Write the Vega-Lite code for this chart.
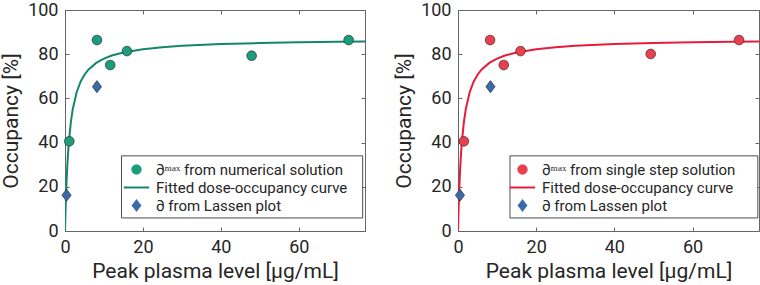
{
  "$schema": "https://vega.github.io/schema/vega-lite/v6.json",
  "padding": {"left": 0, "top": 0, "right": 0, "bottom": 0},
  "datasets": {
    "pts": [
      {"panel": "A", "series": "∂ᵐᵃˣ from numerical solution", "c": 1.1, "o": 40.6},
      {"panel": "A", "series": "∂ᵐᵃˣ from numerical solution", "c": 8.2, "o": 86.4},
      {"panel": "A", "series": "∂ᵐᵃˣ from numerical solution", "c": 11.6, "o": 75.1},
      {"panel": "A", "series": "∂ᵐᵃˣ from numerical solution", "c": 15.9, "o": 81.4},
      {"panel": "A", "series": "∂ᵐᵃˣ from numerical solution", "c": 47.9, "o": 79.3},
      {"panel": "A", "series": "∂ᵐᵃˣ from numerical solution", "c": 72.8, "o": 86.4},
      {"panel": "A", "series": "∂ from Lassen plot", "c": 0.4, "o": 16.2},
      {"panel": "A", "series": "∂ from Lassen plot", "c": 8.2, "o": 65.3},
      {"panel": "B", "series": "∂ᵐᵃˣ from single step solution", "c": 1.5, "o": 40.6},
      {"panel": "B", "series": "∂ᵐᵃˣ from single step solution", "c": 8.2, "o": 86.4},
      {"panel": "B", "series": "∂ᵐᵃˣ from single step solution", "c": 11.7, "o": 75.1},
      {"panel": "B", "series": "∂ᵐᵃˣ from single step solution", "c": 16.0, "o": 81.4},
      {"panel": "B", "series": "∂ᵐᵃˣ from single step solution", "c": 49.3, "o": 80.1},
      {"panel": "B", "series": "∂ᵐᵃˣ from single step solution", "c": 71.9, "o": 86.4},
      {"panel": "B", "series": "∂ from Lassen plot", "c": 0.5, "o": 16.2},
      {"panel": "B", "series": "∂ from Lassen plot", "c": 8.3, "o": 65.3}
    ],
    "curve": [
      {"series": "Fitted dose-occupancy curve", "c": 0, "o": 0},
      {"series": "Fitted dose-occupancy curve", "c": 0.1, "o": 6.96},
      {"series": "Fitted dose-occupancy curve", "c": 0.2, "o": 12.89},
      {"series": "Fitted dose-occupancy curve", "c": 0.3, "o": 18.0},
      {"series": "Fitted dose-occupancy curve", "c": 0.4, "o": 22.45},
      {"series": "Fitted dose-occupancy curve", "c": 0.6, "o": 29.83},
      {"series": "Fitted dose-occupancy curve", "c": 0.8, "o": 35.69},
      {"series": "Fitted dose-occupancy curve", "c": 1, "o": 40.47},
      {"series": "Fitted dose-occupancy curve", "c": 1.5, "o": 49.25},
      {"series": "Fitted dose-occupancy curve", "c": 2, "o": 55.24},
      {"series": "Fitted dose-occupancy curve", "c": 3, "o": 62.89},
      {"series": "Fitted dose-occupancy curve", "c": 4, "o": 67.57},
      {"series": "Fitted dose-occupancy curve", "c": 5, "o": 70.73},
      {"series": "Fitted dose-occupancy curve", "c": 6, "o": 73.01},
      {"series": "Fitted dose-occupancy curve", "c": 8, "o": 76.07},
      {"series": "Fitted dose-occupancy curve", "c": 10, "o": 78.03},
      {"series": "Fitted dose-occupancy curve", "c": 12, "o": 79.39},
      {"series": "Fitted dose-occupancy curve", "c": 15, "o": 80.8},
      {"series": "Fitted dose-occupancy curve", "c": 20, "o": 82.27},
      {"series": "Fitted dose-occupancy curve", "c": 25, "o": 83.17},
      {"series": "Fitted dose-occupancy curve", "c": 30, "o": 83.79},
      {"series": "Fitted dose-occupancy curve", "c": 40, "o": 84.57},
      {"series": "Fitted dose-occupancy curve", "c": 50, "o": 85.04},
      {"series": "Fitted dose-occupancy curve", "c": 60, "o": 85.36},
      {"series": "Fitted dose-occupancy curve", "c": 70, "o": 85.59},
      {"series": "Fitted dose-occupancy curve", "c": 77, "o": 85.72}
    ],
    "box": [{"item": "legend frame"}]
  },
  "spacing": 27,
  "hconcat": [
    {
      "width": 300,
      "height": 221,
      "layer": [
        {
          "data": {"name": "curve"},
          "mark": {"type": "line", "strokeWidth": 2, "clip": true},
          "encoding": {
            "x": {"field": "c", "type": "quantitative", "scale": {"domain": [0, 77], "nice": false, "zero": false},
                  "axis": {"orient": "bottom", "values": [0, 20, 40, 60], "title": "Peak plasma level [μg/mL]", "titlePadding": 4}},
            "y": {"field": "o", "type": "quantitative", "scale": {"domain": [0, 100], "nice": false},
                  "axis": {"orient": "left", "values": [0, 20, 40, 60, 80, 100], "title": "Occupancy [%]", "titlePadding": 6}},
            "color": {"field": "series", "type": "nominal",
                      "scale": {"domain": ["∂ᵐᵃˣ from numerical solution", "Fitted dose-occupancy curve", "∂ from Lassen plot"], "range": ["#1b9c7c", "#13876a", "#3b6aa8"]},
                      "legend": {"title": null, "orient": "none", "legendX": 56, "legendY": 144, "padding": 8, "labelFont": "Roboto", "labelFontSize": 15, "labelColor": "#262626", "labelLimit": 400, "symbolSize": 95, "labelOffset": 12, "rowPadding": 2,
                        "encode": {"symbols": {"update": {"size": {"value": 95}, "stroke": {"signal": "datum.value == 'Fitted dose-occupancy curve' ? '#13876a' : '#222'"}, "strokeWidth": {"signal": "datum.value == 'Fitted dose-occupancy curve' ? 2 : 0.6"}}}}}}
          }
        },
        {
          "data": {"name": "box"},
          "mark": {"type": "rect", "fill": "white", "stroke": "#222", "strokeWidth": 0.8},
          "encoding": {
            "x": {"datum": 14.5, "type": "quantitative", "axis": null},
            "x2": {"datum": 76.4},
            "y": {"datum": 34.0, "type": "quantitative", "axis": null},
            "y2": {"datum": 5.9}
          }
        },
        {
          "data": {"name": "pts"},
          "transform": [{"filter": "datum.panel === 'A'"}],
          "mark": {"type": "point", "filled": true, "stroke": "#222", "strokeWidth": 0.6, "opacity": 1, "size": 95},
          "encoding": {
            "x": {"field": "c", "type": "quantitative", "axis": {"orient": "top", "values": [0, 20, 40, 60], "labels": false, "title": null}},
            "y": {"field": "o", "type": "quantitative", "axis": {"orient": "right", "values": [0, 20, 40, 60, 80, 100], "labels": false, "title": null}},
            "color": {"field": "series", "type": "nominal"},
            "shape": {"field": "series", "type": "nominal",
                      "scale": {"domain": ["∂ᵐᵃˣ from numerical solution", "Fitted dose-occupancy curve", "∂ from Lassen plot"], "range": ["circle", "M-2.6,0H2.6", "M0,-1.25L0.95,0L0,1.25L-0.95,0Z"]}}
          }
        }
      ],
      "resolve": {"axis": {"x": "independent", "y": "independent"}}
    },
    {
      "width": 301,
      "height": 221,
      "layer": [
        {
          "data": {"name": "curve"},
          "mark": {"type": "line", "strokeWidth": 2, "clip": true},
          "encoding": {
            "x": {"field": "c", "type": "quantitative", "scale": {"domain": [0, 77], "nice": false, "zero": false},
                  "axis": {"orient": "bottom", "values": [0, 20, 40, 60], "title": "Peak plasma level [μg/mL]", "titlePadding": 4}},
            "y": {"field": "o", "type": "quantitative", "scale": {"domain": [0, 100], "nice": false},
                  "axis": {"orient": "left", "values": [0, 20, 40, 60, 80, 100], "title": "Occupancy [%]", "titlePadding": 6}},
            "color": {"field": "series", "type": "nominal",
                      "scale": {"domain": ["∂ᵐᵃˣ from single step solution", "Fitted dose-occupancy curve", "∂ from Lassen plot"], "range": ["#e8404f", "#e51d3a", "#3b6aa8"]},
                      "legend": {"title": null, "orient": "none", "legendX": 49, "legendY": 144, "padding": 8, "labelFont": "Roboto", "labelFontSize": 15, "labelColor": "#262626", "labelLimit": 400, "symbolSize": 95, "labelOffset": 12, "rowPadding": 2,
                        "encode": {"symbols": {"update": {"size": {"value": 95}, "stroke": {"signal": "datum.value == 'Fitted dose-occupancy curve' ? '#e51d3a' : '#222'"}, "strokeWidth": {"signal": "datum.value == 'Fitted dose-occupancy curve' ? 2 : 0.6"}}}}}}
          }
        },
        {
          "data": {"name": "box"},
          "mark": {"type": "rect", "fill": "white", "stroke": "#222", "strokeWidth": 0.8},
          "encoding": {
            "x": {"datum": 13.3, "type": "quantitative", "axis": null},
            "x2": {"datum": 76.7},
            "y": {"datum": 34.0, "type": "quantitative", "axis": null},
            "y2": {"datum": 5.9}
          }
        },
        {
          "data": {"name": "pts"},
          "transform": [{"filter": "datum.panel === 'B'"}],
          "mark": {"type": "point", "filled": true, "stroke": "#222", "strokeWidth": 0.6, "opacity": 1, "size": 95},
          "encoding": {
            "x": {"field": "c", "type": "quantitative", "axis": {"orient": "top", "values": [0, 20, 40, 60], "labels": false, "title": null}},
            "y": {"field": "o", "type": "quantitative", "axis": {"orient": "right", "values": [0, 20, 40, 60, 80, 100], "labels": false, "title": null}},
            "color": {"field": "series", "type": "nominal"},
            "shape": {"field": "series", "type": "nominal",
                      "scale": {"domain": ["∂ᵐᵃˣ from single step solution", "Fitted dose-occupancy curve", "∂ from Lassen plot"], "range": ["circle", "M-2.6,0H2.6", "M0,-1.25L0.95,0L0,1.25L-0.95,0Z"]}}
          }
        }
      ],
      "resolve": {"axis": {"x": "independent", "y": "independent"}}
    }
  ],
  "resolve": {"scale": {"color": "independent", "shape": "independent", "x": "independent", "y": "independent"}, "legend": {"color": "independent", "shape": "independent"}},
  "config": {
    "font": "Roboto",
    "view": {"stroke": "#777", "strokeWidth": 1},
    "axis": {
      "labelFont": "Roboto", "labelFontSize": 18, "labelColor": "#262626", "labelFlush": false,
      "titleFont": "Roboto", "titleFontSize": 21, "titleFontWeight": "normal", "titleColor": "#262626",
      "domainColor": "#666", "tickColor": "#666", "grid": false, "tickSize": -4, "labelPadding": 11
    }
  }
}
